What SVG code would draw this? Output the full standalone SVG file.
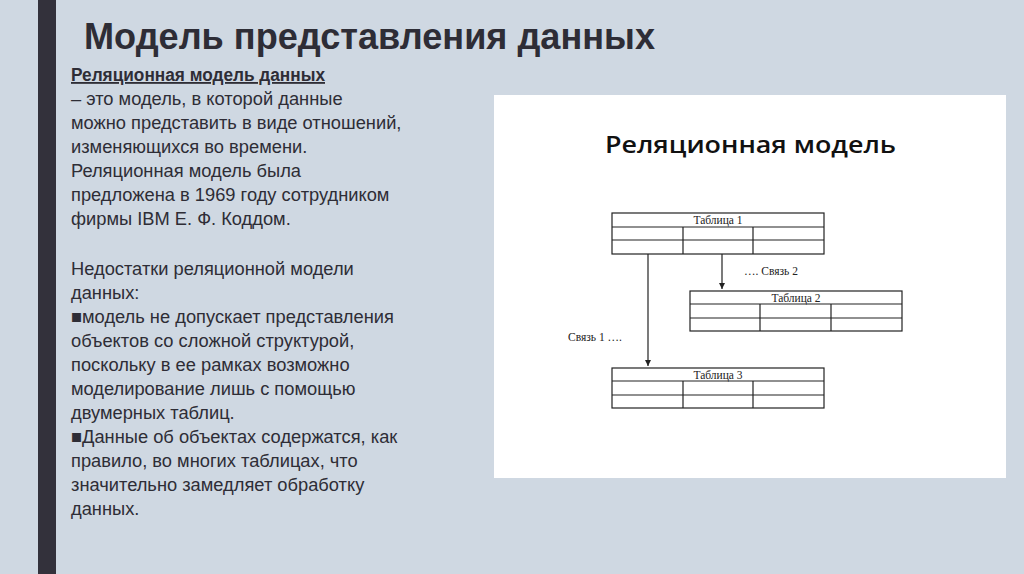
<svg xmlns="http://www.w3.org/2000/svg" width="1024" height="574" viewBox="0 0 1024 574">
<style>
.b{font-family:"Liberation Sans",Arial,sans-serif;font-size:18.3px;fill:#2e2d36}
.t{fill:#fff;stroke:#222;stroke-width:1.2}
.l{stroke:#222;stroke-width:1.2}
.s{font-family:"Liberation Serif",serif;font-size:11.5px;fill:#222}
</style>
<defs><marker id="a" markerWidth="8" markerHeight="8" refX="6" refY="3" orient="auto" markerUnits="userSpaceOnUse"><path d="M0,0L6,3L0,6z" fill="#222"/></marker></defs>
<rect width="1024" height="574" fill="#cfd8e2"/>
<rect x="38" y="0" width="18" height="574" fill="#33313b"/>
<text x="84" y="49" font-family="Liberation Sans,Arial,sans-serif" font-size="36" font-weight="bold" fill="#2e2d36" textLength="571" lengthAdjust="spacingAndGlyphs">Модель представления данных</text>
<text class="b" x="71" y="81" font-weight="bold" text-decoration="underline" textLength="254" lengthAdjust="spacingAndGlyphs">Реляционная модель данных</text>
<text class="b"><tspan x="71" y="105">– это модель, в которой данные</tspan><tspan x="71" y="129">можно представить в виде отношений,</tspan><tspan x="71" y="153">изменяющихся во времени.</tspan><tspan x="71" y="177">Реляционная модель была</tspan><tspan x="71" y="201">предложена в 1969 году сотрудником</tspan><tspan x="71" y="225">фирмы IBM Е. Ф. Коддом.</tspan><tspan x="71" y="275">Недостатки реляционной модели</tspan><tspan x="71" y="299">данных:</tspan><tspan x="71" y="323">■модель не допускает представления</tspan><tspan x="71" y="347">объектов со сложной структурой,</tspan><tspan x="71" y="371">поскольку в ее рамках возможно</tspan><tspan x="71" y="395">моделирование лишь с помощью</tspan><tspan x="71" y="419">двумерных таблиц.</tspan><tspan x="71" y="443">■Данные об объектах содержатся, как</tspan><tspan x="71" y="467">правило, во многих таблицах, что</tspan><tspan x="71" y="491">значительно замедляет обработку</tspan><tspan x="71" y="515">данных.</tspan></text>
<rect x="494" y="95" width="512" height="383" fill="#fff"/>
<text x="605" y="153" font-family="Open Sans,sans-serif" font-size="23" font-weight="600" fill="#111" textLength="291" lengthAdjust="spacingAndGlyphs">Реляционная модель</text>
<g id="t1"><rect class="t" x="612" y="213" width="212" height="41"/><path class="l" d="M612 227H824M612 240H824M683 227V254M753 227V254"/><text class="s" x="718" y="224" text-anchor="middle">Таблица 1</text></g>
<g id="t2"><rect class="t" x="690" y="291" width="212" height="40"/><path class="l" d="M690 304H902M690 318H902M760 304V331M831 304V331"/><text class="s" x="796" y="302" text-anchor="middle">Таблица 2</text></g>
<g id="t3"><rect class="t" x="612" y="368" width="212" height="40"/><path class="l" d="M612 381H824M612 395H824M683 381V408M753 381V408"/><text class="s" x="718" y="379" text-anchor="middle">Таблица 3</text></g>
<g id="c"><path class="l" d="M648 254V366" marker-end="url(#a)"/><path class="l" d="M722 254V289" marker-end="url(#a)"/></g>
<text class="s" x="744" y="275">…. Связь 2</text>
<text class="s" x="568" y="341">Связь 1 ….</text>
</svg>
